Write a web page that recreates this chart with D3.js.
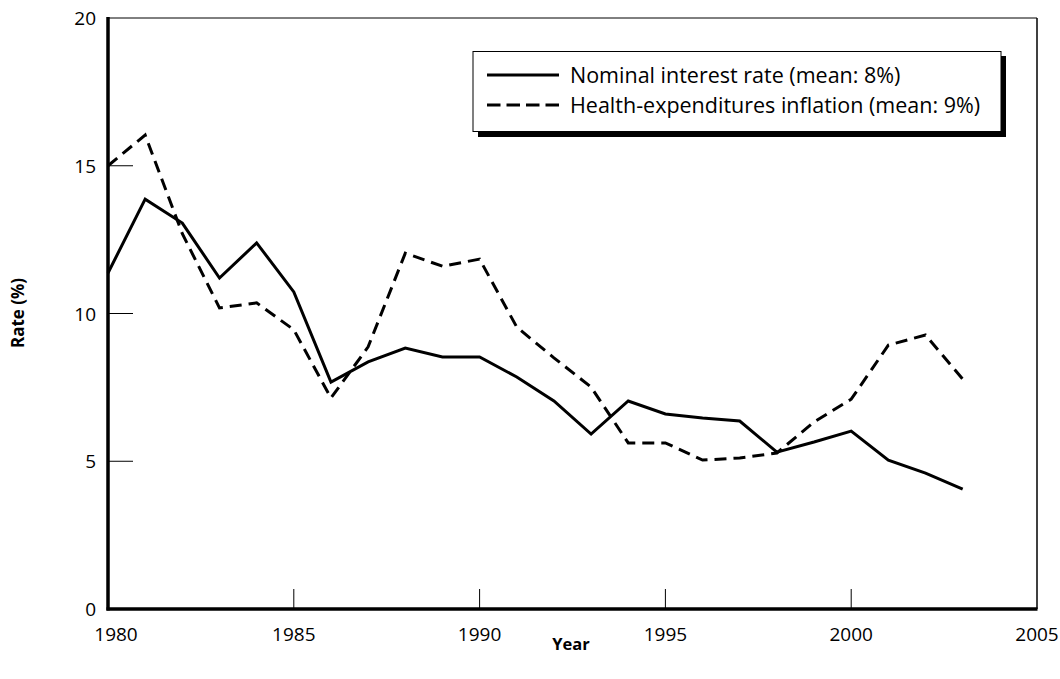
<!DOCTYPE html>
<html><head><meta charset="utf-8">
<script src="https://cdn.jsdelivr.net/npm/d3@7"></script>
<style>body{margin:0;background:#fff}svg{display:block}text{font-family:"Open Sans","Noto Sans",sans-serif;fill:#000}</style>
</head><body><svg id="c" width="1060" height="679"></svg>
<script>
const years = d3.range(1980, 2004);
const nominalRate = [11.37,13.87,13.06,11.2,12.39,10.73,7.68,8.36,8.83,8.53,8.53,7.85,7.04,5.92,7.04,6.6,6.46,6.36,5.31,5.65,6.02,5.04,4.6,4.06];
const healthInflation = [15.0,16.04,12.7,10.19,10.36,9.45,7.14,8.87,12.04,11.6,11.84,9.54,8.5,7.51,5.62,5.62,5.04,5.11,5.28,6.33,7.1,8.93,9.27,7.78];
const xTicks = [1980,1985,1990,1995,2000,2005];
const yTicks = [0,5,10,15,20];
const seriesNames = ["Nominal interest rate (mean: 8%)","Health-expenditures inflation (mean: 9%)"];

const svg = d3.select("#c");
const L=108,R=1037,T=18,B=609;
const x = d3.scaleLinear().domain([1980,2005]).range([L,R]);
const y = d3.scaleLinear().domain([0,20]).range([B,T]);

svg.append("line").attr("x1",L).attr("x2",R).attr("y1",T).attr("y2",T).attr("stroke","#000").attr("stroke-width",1);
svg.append("line").attr("x1",R).attr("x2",R).attr("y1",T).attr("y2",B).attr("stroke","#000").attr("stroke-width",1.5);

svg.selectAll(".xt").data(xTicks.slice(1,-1)).enter().append("line")
  .attr("x1",d=>x(d)).attr("x2",d=>x(d)).attr("y1",B).attr("y2",B-20).attr("stroke","#000").attr("stroke-width",1);
svg.selectAll(".yt").data(yTicks.slice(1,-1)).enter().append("line")
  .attr("y1",d=>y(d)).attr("y2",d=>y(d)).attr("x1",L).attr("x2",L+25).attr("stroke","#000").attr("stroke-width",1);

svg.selectAll(".xl").data(xTicks).enter().append("text")
  .attr("x",(d,i)=>x(d)+(i===0?8:0)).attr("y",B+32).attr("text-anchor","middle").attr("font-size",19).text(d=>d);
svg.selectAll(".yl").data(yTicks).enter().append("text")
  .attr("x",L-12).attr("y",d=>y(d)+7).attr("text-anchor","end").attr("font-size",19).text(d=>d);

svg.append("text").attr("x",571).attr("y",650).attr("text-anchor","middle").attr("font-size",16.5).attr("font-weight","bold").text("Year");
svg.append("text").attr("transform","translate(24,313) rotate(-90)").attr("text-anchor","middle").attr("font-size",17).attr("font-weight","bold").text("Rate (%)");

const line = d3.line().x((d,i)=>x(years[i])).y(d=>y(d));
svg.append("path").datum(nominalRate).attr("d",line).attr("fill","none").attr("stroke","#000").attr("stroke-width",3);
svg.append("path").datum(healthInflation).attr("d",line).attr("fill","none").attr("stroke","#000").attr("stroke-width",3).attr("stroke-dasharray","12,7");

svg.append("line").attr("x1",L).attr("x2",L).attr("y1",T-1).attr("y2",B+1.5).attr("stroke","#000").attr("stroke-width",3.5);
svg.append("line").attr("x1",L-1.5).attr("x2",R+0.5).attr("y1",B).attr("y2",B).attr("stroke","#000").attr("stroke-width",3.5);

const lg = svg.append("g");
lg.append("rect").attr("x",478).attr("y",56).attr("width",528).attr("height",81).attr("fill","#000");
lg.append("rect").attr("x",473).attr("y",51.5).attr("width",528).attr("height",80).attr("fill","#fff").attr("stroke","#000").attr("stroke-width",1);
lg.append("line").attr("x1",487).attr("x2",559).attr("y1",75).attr("y2",75).attr("stroke","#000").attr("stroke-width",3);
lg.append("line").attr("x1",487).attr("x2",559).attr("y1",105).attr("y2",105).attr("stroke","#000").attr("stroke-width",3).attr("stroke-dasharray","13.5,6");
lg.append("text").attr("x",570).attr("y",82.5).attr("font-size",21.5).text(seriesNames[0]);
lg.append("text").attr("x",570).attr("y",112.5).attr("font-size",21.5).text(seriesNames[1]);
</script></body></html>
